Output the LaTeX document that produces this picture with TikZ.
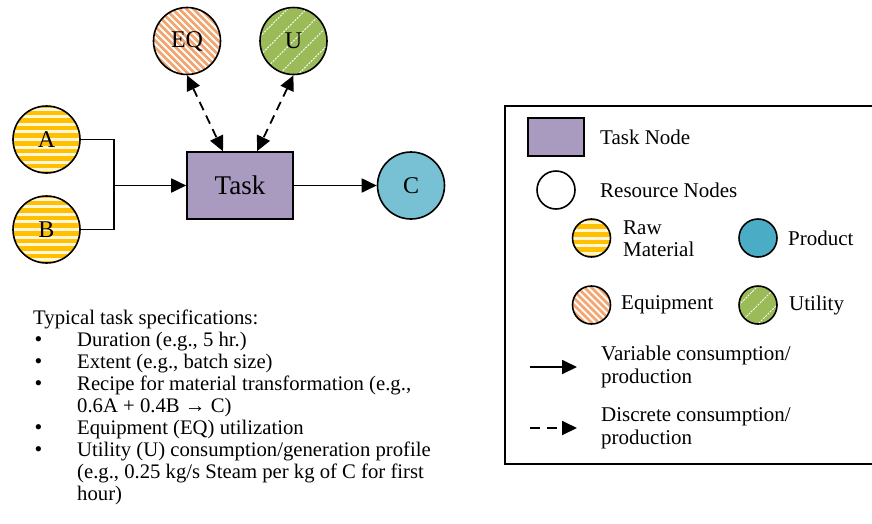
\documentclass[tikz,border=0pt]{standalone}
\usepackage{fontspec}
\setmainfont{Liberation Serif}
\usetikzlibrary{arrows.meta,calc}
\definecolor{rawY}{HTML}{FFC000}
\definecolor{rawW}{HTML}{FFF6DC}
\definecolor{eqO}{HTML}{F4A46C}
\definecolor{utG}{HTML}{9BBB59}
\definecolor{prodC}{HTML}{78C0D4}
\definecolor{prodL}{HTML}{4BACC6}
\definecolor{taskP}{HTML}{A99BC0}
\tikzset{
  res/.style={circle, draw=black, line width=1.6pt, inner sep=0pt, minimum size=#1},
  rawmat/.style={res=#1, fill=rawY, path picture={
      \foreach \i in {-6,...,6}{\fill[rawW] ($(path picture bounding box.center)+(-50,\i*7.6-1.5)$) rectangle ++(100,3);}}},
  equip/.style={res=#1, fill=eqO, path picture={
      \foreach \i in {-12,...,12}{\draw[white,line width=1.8pt] ($(path picture bounding box.center)+(\i*7-50,-50)$) -- ++(100,100);}}},
  util/.style={res=#1, fill=utG, path picture={
      \foreach \i in {-4,...,4}{\draw[white,line width=0.9pt,dash pattern=on 2pt off 1.2pt] ($(path picture bounding box.center)+(\i*19-50,50)$) -- ++(100,-100);}}},
  prod/.style={res=#1, fill=prodC},
  tip/.style={-{Triangle[length=15pt,width=14pt]}},
  tips/.style={{Triangle[length=15pt,width=14pt]}-{Triangle[length=15pt,width=14pt]}},
  conn/.style={line width=1.8pt, black},
  dsh/.style={dash pattern=on 9pt off 6pt},
  lbl/.style={font=\fontsize{24}{28}\selectfont},
  legtxt/.style={anchor=west, inner sep=0pt, align=left, font=\fontsize{21}{22}\selectfont},
  bodytxt/.style={anchor=north west, inner sep=0pt, font=\fontsize{20.7}{22}\selectfont},
}
\newcommand{\bulsym}{\hspace{1.5pt}{\fontsize{22}{22}\selectfont\textbullet}}
\begin{document}
\begin{tikzpicture}[x=1pt,y=-1pt]
\clip (0,0) rectangle (872,523);
\fill[white] (0,0) rectangle (872,523);

% main diagram
\node[rawmat=67pt, lbl] (A) at (46.5,139.5) {A};
\node[rawmat=67pt, lbl] (B) at (46.5,229.5) {B};
\node[equip=67pt, lbl] (EQ) at (187,41) {EQ};
\node[util=67pt, lbl] (U) at (293.5,41) {U};
\node[draw=black, line width=1.6pt, fill=taskP, minimum width=106pt, minimum height=67pt, inner sep=0pt, font=\fontsize{27}{30}\selectfont] (task) at (240,185.5) {Task};
\node[prod=67pt, lbl] (C) at (411,185.5) {C};

\coordinate (J) at (114,185.5);
\draw[conn] (A.east) -| (J);
\draw[conn] (B.east) -| (J);
\draw[conn, tip] (J) -- (task.west);
\draw[conn, tip] (task.east) -- (C.west);
\draw[conn, dsh, tips] (EQ.south) -- ([xshift=-17pt]task.north);
\draw[conn, dsh, tips] (U.south) -- ([xshift=17pt]task.north);

% specification text
\node[bodytxt] (spec) at (33,308.6) {%
\begin{tabular}{@{}p{44pt}@{}l@{}}
\multicolumn{2}{@{}l@{}}{Typical task specifications:}\\
\bulsym & Duration (e.g., 5 hr.)\\
\bulsym & Extent (e.g., batch size)\\
\bulsym & Recipe for material transformation (e.g.,\\
 & 0.6A + 0.4B → C)\\
\bulsym & Equipment (EQ) utilization\\
\bulsym & Utility (U) consumption/generation profile\\
 & (e.g., 0.25 kg/s Steam per kg of C for first\\
 & hour)
\end{tabular}};

% legend
\draw[line width=1.6pt] (505,106) rectangle (900,464);
\node[draw=black, line width=1.6pt, fill=taskP, minimum width=56pt, minimum height=38pt, inner sep=0pt] (lt) at (556,137) {};
\node[legtxt] (ltt) at (600,137) {Task Node};
\node[res=38pt, fill=white] (lr) at (556,190) {};
\node[legtxt] (lrt) at (600,190) {Resource Nodes};
\node[rawmat=38pt] (lraw) at (591.5,238) {};
\node[legtxt] (lrawt) at (623,239) {Raw\\Material};
\node[prod=38pt, fill=prodL] (lp) at (758,238) {};
\node[legtxt] (lpt) at (788,238) {Product};
\node[equip=38pt] (le) at (591.5,305) {};
\node[legtxt] (let) at (621,305) {Equipment};
\node[util=38pt] (lu) at (758,305) {};
\node[legtxt] (lut) at (789,305) {Utility};
\coordinate (va) at (530,367);
\coordinate (vb) at (577,367);
\draw[conn, tip] (va) -- (vb);
\node[legtxt, font=\fontsize{21}{23}\selectfont] (vt) at (601,367) {Variable consumption/\\production};
\coordinate (da) at (530,428);
\coordinate (db) at (577,428);
\draw[conn, tip, dash pattern=on 10pt off 7pt] (da) -- (db);
\node[legtxt, font=\fontsize{21}{23}\selectfont] (dt) at (601,428) {Discrete consumption/\\production};
\end{tikzpicture}
\end{document}
